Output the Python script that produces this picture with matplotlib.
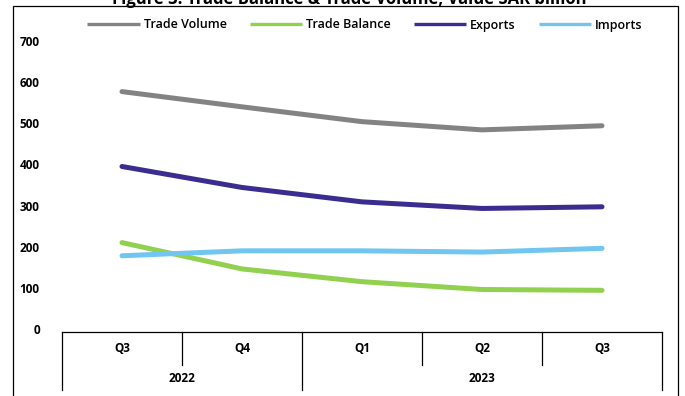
import numpy as np
import matplotlib
matplotlib.use("Agg")
import matplotlib.pyplot as plt
from matplotlib.patches import Rectangle

# data (SAR billion)
quarters = ["Q3", "Q4", "Q1", "Q2", "Q3"]
years = ["2022", "2023"]
year_span = [2, 3]  # number of quarters in each year group
trade_volume = [577, 540, 504, 484, 494]
trade_balance = [210, 146, 115, 96, 94]
exports = [395, 344, 309, 293, 297]
imports = [178, 190, 190, 187, 196]

series = [
    ("Trade Volume", trade_volume, "#838383"),
    ("Trade Balance", trade_balance, "#92D050"),
    ("Exports", exports, "#3A2D8F"),
    ("Imports", imports, "#70C6F0"),
]

plt.rcParams["font.family"] = ["Open Sans", "DejaVu Sans"]

W, H = 685, 396
fig = plt.figure(figsize=(W / 100, H / 100), dpi=100)
ax = fig.add_axes([62 / W, 1 - 329 / H, 600 / W, 288 / H])

x = np.arange(len(quarters))
for name, vals, col in series:
    ax.plot(x, vals, color=col, lw=3.6, solid_capstyle="round",
            solid_joinstyle="miter", label=name)

ax.set_xlim(-0.5, len(quarters) - 0.5)
ax.set_ylim(0, 700)
ax.set_yticks(range(0, 701, 100))
ax.tick_params(axis="y", length=0, pad=16, labelsize=8.5)
for t in ax.get_yticklabels():
    t.set_fontweight("bold")
ax.set_xticks([])
for s in ax.spines.values():
    s.set_visible(False)

# category axis drawn as boxes
tr = ax.get_xaxis_transform()
y_top, y_q, y_yr = -3 / 288, -36 / 288, -61 / 288
ax.plot([-0.5, len(quarters) - 0.5], [y_top, y_top], color="black", lw=0.9,
        transform=tr, clip_on=False)
for i, q in enumerate(quarters):
    ax.text(i, -20 / 288, q, transform=tr, ha="center", va="center",
            fontsize=8.5, fontweight="bold")
edges = np.cumsum([0] + year_span) - 0.5
for i in range(1, len(quarters)):
    b = i - 0.5
    bottom = y_yr if b in edges else y_q
    ax.plot([b, b], [y_top, bottom], color="black", lw=0.9,
            transform=tr, clip_on=False)
for b in (edges[0], edges[-1]):
    ax.plot([b, b], [y_top, y_yr], color="black", lw=0.9,
            transform=tr, clip_on=False)
for j, yr in enumerate(years):
    mid = (edges[j] + edges[j + 1]) / 2
    ax.text(mid, -50 / 288, yr, transform=tr, ha="center", va="center",
            fontsize=8.5, fontweight="bold")

leg = fig.legend(loc="center", bbox_to_anchor=(365 / W, 1 - 25 / H), ncol=4,
                 frameon=False, fontsize=9, handlelength=4.2,
                 handletextpad=0.3, columnspacing=1.85,
                 prop={"size": 9, "weight": "semibold"})
for ln in leg.get_lines():
    ln.set_linewidth(2.4)
    ln.set_solid_capstyle("butt")

# outer border and clipped title
fig.patches.append(Rectangle((13 / W, -0.1), 665 / W, 1.1 - 6 / H,
                             transform=fig.transFigure, fill=False,
                             edgecolor="black", lw=0.9))
fig.text(349 / W, 1 - 4 / H,
         "Figure 3: Trade Balance & Trade Volume, Value SAR billion",
         ha="center", va="baseline", fontsize=12, fontweight="bold")

fig.savefig("out.png", dpi=100)
